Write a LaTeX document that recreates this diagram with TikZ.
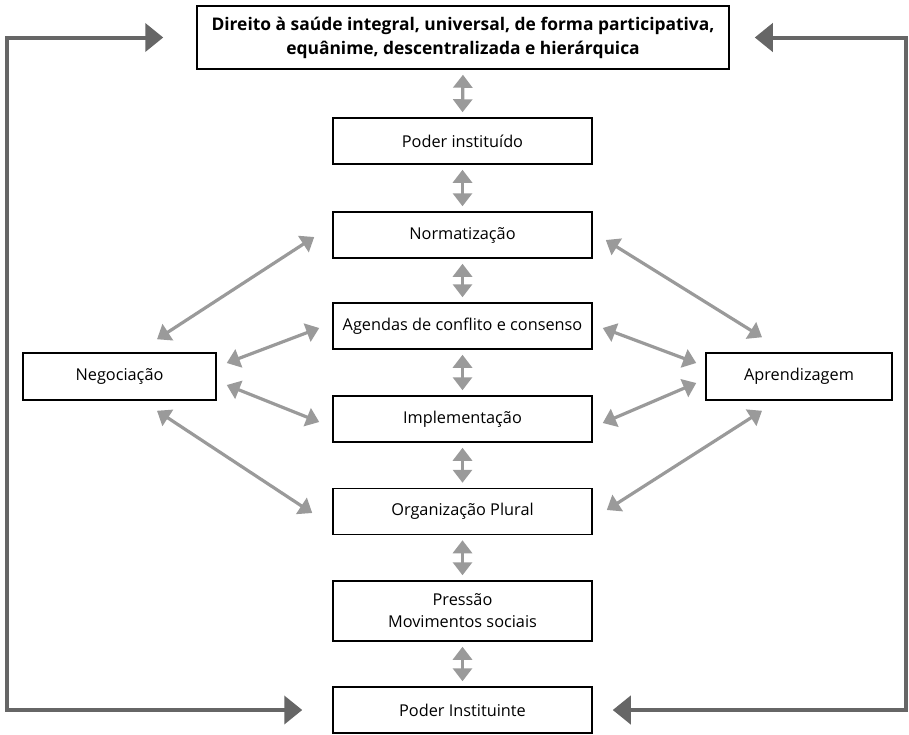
\documentclass[tikz,border=0pt]{standalone}
\usepackage{fontspec}
\setmainfont{Open Sans}
\usetikzlibrary{arrows.meta}
\definecolor{lightarr}{HTML}{9A9A9A}
\definecolor{darkarr}{HTML}{666666}
\tikzset{
  box/.style={draw=black, line width=1.5pt, fill=white, rectangle, inner sep=0pt,
    font=\fontsize{16.3}{22}\selectfont, align=center},
  cbox/.style={box, minimum width=259pt, minimum height=46pt},
  garrow/.style={draw=lightarr, line width=3.2pt,
    {Triangle[width=19pt,length=13pt]}-{Triangle[width=19pt,length=13pt]}},
  loopline/.style={draw=darkarr, line width=4pt,
    {Triangle[width=28pt,length=18pt]}-{Triangle[width=28pt,length=18pt]}},
}
\begin{document}
\begin{tikzpicture}[x=1pt,y=-1pt]
\useasboundingbox (0,0) rectangle (909,734);
\node[box, minimum width=532pt, minimum height=63pt, font=\bfseries\fontsize{17.4}{24}\selectfont] (top) at (463,37.5)
  {Direito à saúde integral, universal, de forma participativa,\\equânime, descentralizada e hierárquica};
\node[cbox] (pi) at (462.5,141) {Poder instituído};
\node[cbox] (norm) at (462.5,235) {Normatização};
\node[cbox] (agen) at (462.5,326) {Agendas de conflito e consenso};
\node[cbox] (impl) at (462.5,419) {Implementação};
\node[cbox] (org) at (462.5,511.5) {Organização Plural};
\node[cbox, minimum height=60pt] (press) at (462.5,611) {Pressão\\Movimentos sociais};
\node[cbox, minimum height=46pt] (inst) at (462.5,710) {Poder Instituinte};
\node[box, minimum width=193pt, minimum height=47pt] (neg) at (119.5,376.5) {Negociação};
\node[box, minimum width=186pt, minimum height=47pt] (apr) at (799,376.5) {Aprendizagem};
\coordinate (lx) at (7,0);
\coordinate (rx) at (906,0);
% vertical arrows
\foreach \a/\b in {top/pi, pi/norm, norm/agen, agen/impl, impl/org, org/press, press/inst}
  \draw[garrow, shorten <=5pt, shorten >=5pt] (\a.south) -- (\b.north);
% left diagonals
\draw[garrow] ([xshift=37.5pt,yshift=13pt]neg.north) -- ([xshift=-18pt,yshift=-2pt]norm.west);
\draw[garrow] ([xshift=10pt,yshift=13.5pt]neg.east) -- ([xshift=-13pt,yshift=-2pt]agen.west);
\draw[garrow] ([xshift=10pt,yshift=-8.5pt]neg.east) -- ([xshift=-13pt,yshift=-3pt]impl.west);
\draw[garrow] ([xshift=37.5pt,yshift=-10pt]neg.south) -- ([xshift=-20pt,yshift=-1.5pt]org.west);
% right diagonals
\draw[garrow] ([xshift=-37pt,yshift=15pt]apr.north) -- ([xshift=13pt,yshift=-5pt]norm.east);
\draw[garrow] ([xshift=-9pt,yshift=13.5pt]apr.west) -- ([xshift=10pt,yshift=-2pt]agen.east);
\draw[garrow] ([xshift=-9pt,yshift=-6.5pt]apr.west) -- ([xshift=10pt,yshift=-4pt]impl.east);
\draw[garrow] ([xshift=-37pt,yshift=-10pt]apr.south) -- ([xshift=14pt,yshift=1.5pt]org.east);
% loops
\draw[loopline, shorten <=33pt, shorten >=30pt] (top.west) -- (top.west -| lx) -- (inst.west -| lx) -- (inst.west);
\draw[loopline, shorten <=25pt, shorten >=20pt] (top.east) -- (top.east -| rx) -- (inst.east -| rx) -- (inst.east);
\end{tikzpicture}
\end{document}
